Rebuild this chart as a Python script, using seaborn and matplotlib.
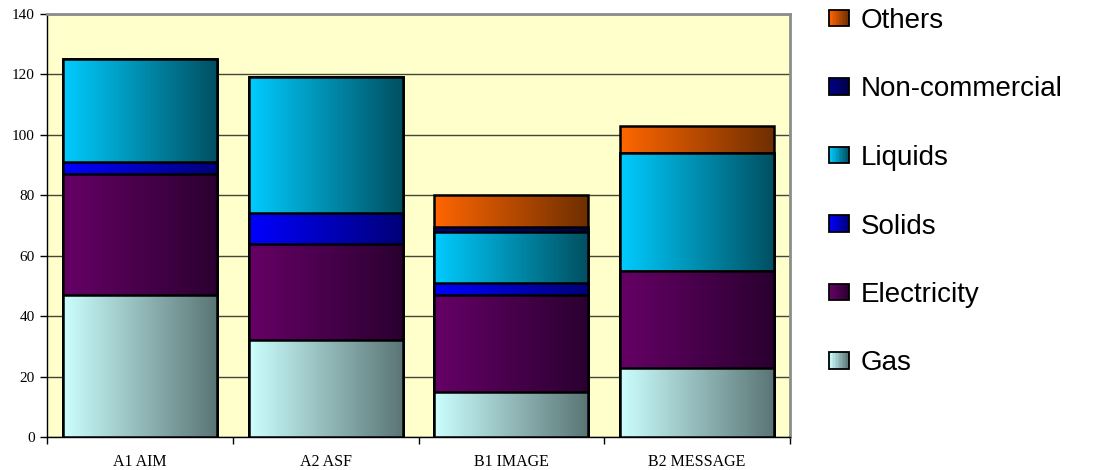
import numpy as np
import matplotlib
matplotlib.use("Agg")
import matplotlib.pyplot as plt
import seaborn as sns
from matplotlib.colors import LinearSegmentedColormap
from matplotlib.legend_handler import HandlerBase
from matplotlib.patches import Rectangle

# Final energy demand by carrier for four scenarios
scenarios = ["A1 AIM", "A2 ASF", "B1 IMAGE", "B2 MESSAGE"]
gas = [47, 32, 15, 23]
electricity = [40, 32, 32, 32]
solids = [4, 10, 4, 0]
liquids = [34, 45, 17, 39]
non_commercial = [0, 0, 1.5, 0]
others = [0, 0, 10.5, 9]

carriers = ["Gas", "Electricity", "Solids", "Liquids", "Non-commercial", "Others"]
values = [gas, electricity, solids, liquids, non_commercial, others]

# left-to-right shading of each carrier
shades = {
    "Gas": ("#CCFFFF", "#5A7474"),
    "Electricity": ("#660066", "#2A0030"),
    "Solids": ("#0000FF", "#000078"),
    "Liquids": ("#00CCFF", "#004F60"),
    "Non-commercial": ("#000088", "#000048"),
    "Others": ("#FF6600", "#6E2E00"),
}

sns.set_style("white")
plt.rcParams["font.family"] = ["Liberation Sans", "DejaVu Sans"]
plt.rcParams["text.color"] = "black"

fig = plt.figure(figsize=(11.03, 4.70), dpi=100)
ax = fig.add_axes([47 / 1103, 33 / 470, 743 / 1103, 423 / 470])
ax.set_facecolor("#FFFFCC")

cum = np.cumsum(np.array(values, dtype=float), axis=0)
ramp = np.linspace(0, 1, 256).reshape(1, -1)

# draw cumulative totals from the top carrier down so lower segments sit in front
for i in reversed(range(len(carriers))):
    name = carriers[i]
    cmap = LinearSegmentedColormap.from_list(name, shades[name])
    start = len(ax.patches)
    sns.barplot(x=scenarios, y=cum[i], order=scenarios, width=0.83,
                color="white", edgecolor="black", linewidth=1.8, ax=ax)
    for p in ax.patches[start:]:
        z = 2 + 2 * (len(carriers) - i)
        p.set_facecolor("none")
        p.set_zorder(z + 1)
        x0, w, h = p.get_x(), p.get_width(), p.get_height()
        img = ax.imshow(ramp, cmap=cmap, aspect="auto", extent=[x0, x0 + w, 0, h],
                        interpolation="bilinear", zorder=z)
        img.set_clip_path(p)

ax.set_xlim(-0.5, 3.5)
ax.set_ylim(0, 140)
ax.set_yticks(np.arange(0, 141, 20))
ax.set_xticks(range(len(scenarios)))
ax.set_xticklabels(scenarios)
ax.set_xticks(np.arange(-0.5, 3.6, 1), minor=True)
ax.set_xlabel("")
ax.set_ylabel("")

ax.set_axisbelow(True)
ax.yaxis.grid(True, color="#45453a", linewidth=1.0)
ax.xaxis.grid(False)

for s in ("left", "bottom"):
    ax.spines[s].set_color("black")
    ax.spines[s].set_linewidth(1.0)
for s in ("top", "right"):
    ax.spines[s].set_color("#8c8c8c")
    ax.spines[s].set_linewidth(2.0)

ax.tick_params(axis="y", which="major", direction="out", length=5, width=1,
               color="black", left=True, pad=4)
ax.tick_params(axis="x", which="major", length=0, pad=12)
ax.tick_params(axis="x", which="minor", direction="out", length=5, width=1,
               color="black", bottom=True)
for lab in ax.get_yticklabels():
    lab.set_fontfamily("Liberation Serif")
    lab.set_fontsize(11)
    lab.set_color("black")
for lab in ax.get_xticklabels():
    lab.set_fontfamily("Liberation Serif")
    lab.set_fontsize(11.5)
    lab.set_color("black")


class GradientHandler(HandlerBase):
    def create_artists(self, legend, orig_handle, xdescent, ydescent,
                       width, height, fontsize, trans):
        c0, c1 = shades[orig_handle.get_gid()]
        cmap = LinearSegmentedColormap.from_list("h", (c0, c1))
        n = 14
        arts = []
        for k in range(n):
            arts.append(Rectangle((-xdescent + width * k / n, -ydescent), width / n + 0.3,
                                  height, facecolor=cmap(k / (n - 1)),
                                  edgecolor="none", transform=trans))
        arts.append(Rectangle((-xdescent, -ydescent), width, height, facecolor="none",
                              edgecolor="black", linewidth=1.3, transform=trans))
        return arts


handles = []
for name in reversed(carriers):
    r = Rectangle((0, 0), 1, 1)
    r.set_gid(name)
    handles.append(r)

leg = fig.legend(handles, list(reversed(carriers)),
                 handler_map={Rectangle: GradientHandler()},
                 loc="upper left", bbox_to_anchor=(829 / 1103, 1 - 8 / 470),
                 frameon=False, fontsize=20, borderaxespad=0, borderpad=0,
                 handlelength=0.72, handleheight=0.54, handletextpad=0.43,
                 labelspacing=1.53)
for t in leg.get_texts():
    t.set_color("black")

fig.savefig("out.png", dpi=100, facecolor="white")
